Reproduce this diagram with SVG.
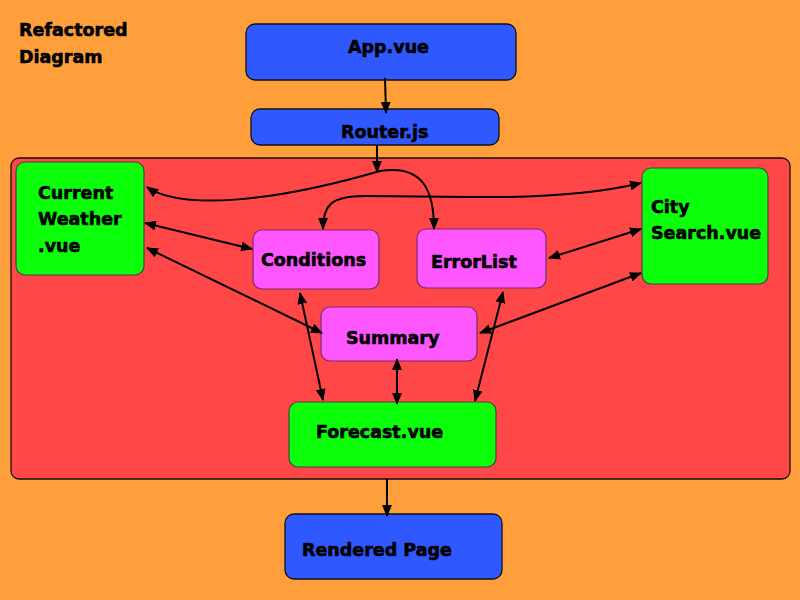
<svg xmlns="http://www.w3.org/2000/svg" width="800" height="600" viewBox="0 0 800 600">
<defs>
<marker id="ah" markerUnits="userSpaceOnUse" markerWidth="12" markerHeight="10" refX="11" refY="5" orient="auto-start-reverse" viewBox="0 0 12 10">
<path d="M0,0 L12,5 L0,10 z" fill="#000"/>
</marker>
<style>
.t{font-family:"DejaVu Sans","Liberation Sans",sans-serif;font-weight:bold;font-size:17.5px;fill:#000;stroke:#000;stroke-width:0.6}
.blue{fill:#3058FF;stroke:#111;stroke-width:1.3}
.green{fill:#0BFF0B;stroke:#444;stroke-width:1.2}
.pink{fill:#FF57FF;stroke:#7a2a6a;stroke-width:1.2}
.c{fill:none;stroke:#000;stroke-width:2}
.one{marker-end:url(#ah)}
.two{marker-start:url(#ah);marker-end:url(#ah)}
</style>
</defs>
<rect x="0" y="0" width="800" height="600" fill="#FF9F3C"/>
<g id="title">
<text class="t" x="19" y="36">Refactored</text>
<text class="t" x="19" y="63">Diagram</text>
</g>
<g id="container">
<rect x="11" y="158" width="779" height="321" rx="8" fill="#FF4747" stroke="#111" stroke-width="1.3"/>
</g>
<g id="app">
<rect class="blue" x="246" y="24" width="270" height="56" rx="9"/>
<text class="t" x="348" y="53">App.vue</text>
</g>
<g id="router">
<rect class="blue" x="251" y="109" width="248" height="36" rx="9"/>
<text class="t" x="341" y="138">Router.js</text>
</g>
<g id="currentweather">
<rect class="green" x="16" y="162" width="128" height="113" rx="9"/>
<text class="t" x="38" y="199">Current</text>
<text class="t" x="38" y="225">Weather</text>
<text class="t" x="38" y="252">.vue</text>
</g>
<g id="conditions">
<rect class="pink" x="253" y="230" width="126" height="59" rx="9"/>
<text class="t" x="261" y="266">Conditions</text>
</g>
<g id="errorlist">
<rect class="pink" x="417" y="229" width="129" height="59" rx="9"/>
<text class="t" x="431" y="268">ErrorList</text>
</g>
<g id="citysearch">
<rect class="green" x="642" y="168" width="126" height="116" rx="9"/>
<text class="t" x="651" y="213">City</text>
<text class="t" x="651" y="239">Search.vue</text>
</g>
<g id="summary">
<rect class="pink" x="321" y="307" width="156" height="54" rx="9"/>
<text class="t" x="346" y="344">Summary</text>
</g>
<g id="forecast">
<rect class="green" x="289" y="402" width="207" height="65" rx="9"/>
<text class="t" x="316" y="438">Forecast.vue</text>
</g>
<g id="rendered">
<rect class="blue" x="285" y="514" width="217" height="65" rx="9"/>
<text class="t" x="302" y="556">Rendered Page</text>
</g>
<g id="connectors">
<path class="c one" d="M385,78 L386,113"/>
<path class="c one" d="M377,145 L377,172"/>
<path class="c two" d="M147,187 C180,210 270,203 380,171 C424,164 434,192 434,229"/>
<path class="c two" d="M323,229 C323,206 330,196 365,196 L470,197 C550,198 600,193 641,183"/>
<path class="c two" d="M145,223 L252,249"/>
<path class="c two" d="M147,248 L322,333"/>
<path class="c two" d="M300,293 L323,400"/>
<path class="c two" d="M549,258 L641,229"/>
<path class="c two" d="M641,273 L480,333"/>
<path class="c two" d="M503,292 L475,401"/>
<path class="c two" d="M397,359 L397,404"/>
<path class="c one" d="M387,479 L387,516"/>
</g>
</svg>
